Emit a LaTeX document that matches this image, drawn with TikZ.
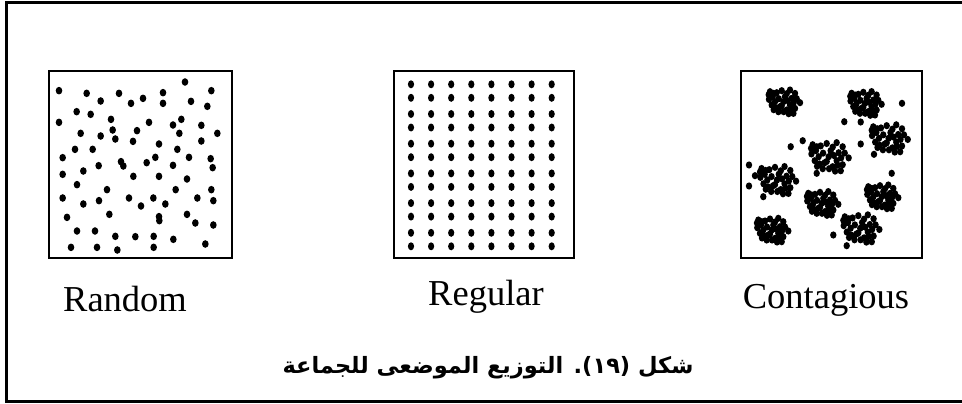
\documentclass[tikz,border=0pt]{standalone}
\usepackage{xcolor}
\usepackage{fontspec}
\setmainfont{Liberation Serif}
\newfontfamily\arabicfont[Script=Arabic]{DejaVu Sans}
\TeXXeTstate=1
\usetikzlibrary{positioning}
% one tight group of individuals in the contagious pattern
\newcommand{\clump}[3]{%
  \foreach \dx/\dy in {-11.7/-10,-8.3/-8.3,0/-11,8.3/-11.7,13.3/-8.3,18.3/1,
      -12.7/-2.3,-6.7/0,3.3/-5,10/-3.3,-10/3.3,-1.7/5,5/8.3,11.7/11.7,
      -3.3/10,1.7/0,8.3/3.3,13.3/6.7,-5/-9,5/-8,-9/-5,-3/-3,6/-1,12/1,
      -6/6,2/10,9/7,15/-3,-13/-7,0/4,-8/8,7/12}{
    \fill ({#1+#3*\dx},{#2+#3*\dy}) ellipse (3.2pt and 3.6pt);
  }%
}

\begin{document}
\begin{tikzpicture}[
    x=1pt, y=-1pt,
    sample/.style={draw, line width=1.6pt},
    tag/.style={anchor=base, font=\fontsize{36.5}{40}\selectfont},
]
\useasboundingbox (0,0) rectangle (962,404);
% outer frame, open on the right
\draw[line width=3pt] (962,2.5) -- (6.5,2.5) -- (6.5,401.5) -- (962,401.5);
% the three sample squares
\draw[sample] (49,71) rectangle (232,258);
\draw[sample] (394,71) rectangle (574,258);
\draw[sample] (741,71) rectangle (922,258);
% random: scattered individuals
\foreach \a/\b in {57/92,140/100,182/123,237/100,273/130,309/115,369/98,369/130,
    435/66,514/92,453/124,502/139,110/155,152/163,213/178,57/187,327/187,399/195,
    424/178,484/196,122/220,182/228,218/210,226/237,291/212,279/244,418/220,532/220,
    484/243,105/268,158/268,357/252,412/268,68/293,176/317,243/305,250/318,320/308,
    346/292,399/316,447/292,512/296,518/323,68/343,130/333,280/349,357/349,441/357,
    111/374,201/389,407/389,514/389,68/414,130/432,177/422,267/414,303/438,340/414,
    376/432,472/414,520/422,81/472,208/463,357/470,358/482,441/463,466/489,520/495,
    111/513,165/513,226/529,286/530,341/529,400/538,93/562,171/562,232/570,341/562,
    496/552}{
  \fill ({40+\a/3},{60+\b/3}) ellipse (3.3pt and 3.8pt);
}
% regular: evenly spaced grid, rows in pairs
\foreach \i in {0,...,7}{
  \foreach \j in {0,...,5}{
    \fill ({411+20.1*\i},{84.3+29.7*\j}) ellipse (3.1pt and 4pt);
    \fill ({411+20.1*\i},{97.8+29.7*\j}) ellipse (3.1pt and 4pt);
  }
}
% contagious: clumps plus a few strays
\clump{781.7}{101.7}{1}
\clump{863.3}{103.3}{1}
\clump{886.7}{138.3}{1.15}
\clump{826.7}{156.7}{1.2}
\clump{775}{180}{1.15}
\clump{880}{196.7}{1}
\clump{820}{203.3}{1}
\clump{770}{230}{1}
\clump{858.3}{228.3}{1.15}
\foreach \a/\b in {902/103.3,844.3/121.7,860.7/122,790.7/146.7,802.7/140.7,
    749/165,749/186,763.3/196.7,891.7/173.3,860.7/144,874/154.3,833.3/235,
    846.7/245.7,816.7/173.3,755/175.7}{
  \fill (\a,\b) ellipse (3.2pt and 3.6pt);
}
% labels
\node[tag] (random) at (125,311.5) {Random};
\node[tag] (regular) at (486,305) {Regular};
\node[tag] (contagious) at (826,308) {Contagious};
\node[anchor=base, font=\arabicfont\bfseries\fontsize{22.5}{26}\selectfont]
   (caption) at (488,373) {\beginR شكل (١٩). التوزيع الموضعى للجماعة\endR};
\end{tikzpicture}
\end{document}
